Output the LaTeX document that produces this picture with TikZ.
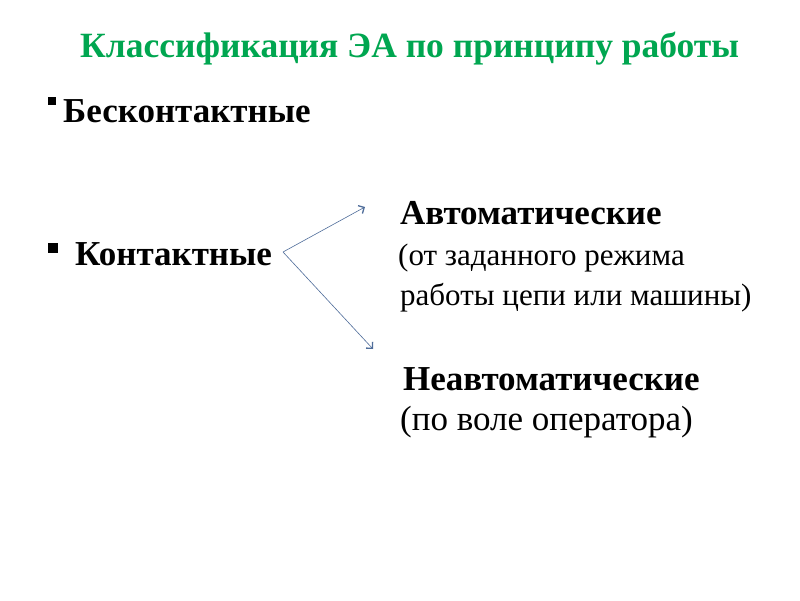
\documentclass[tikz,border=0pt]{standalone}
\usepackage{fontspec}
\setmainfont{Liberation Serif}
\usepackage{tikz}
\usetikzlibrary{arrows.meta}
\definecolor{titlegreen}{RGB}{0,166,80}
\definecolor{arrowblue}{RGB}{79,109,154}
\tikzset{heading/.style = {anchor = base west, inner sep = 0pt, font = \fontsize{35.5}{40}\selectfont\bfseries, text = titlegreen}}
\tikzset{item/.style = {anchor = base west, inner sep = 0pt, font = \fontsize{35}{40}\selectfont\bfseries}}
\tikzset{note/.style = {anchor = base west, inner sep = 0pt, font = \fontsize{31}{36}\selectfont}}
\tikzset{bullet/.style = {fill, inner sep = 0pt, minimum size = 8pt}}
\tikzset{edge/.style = {-{Straight Barb[length = 4.5pt, width = 9pt, line width = 1.3pt]}, draw = arrowblue, line width = 0.6pt}}

\begin{document}
\begin{tikzpicture}[x = 1pt, y = -1pt]
			\useasboundingbox[fill = white] (0, 0) rectangle (800, 600);
			\node[heading] (title) at (80, 57) {Классификация ЭА по принципу работы};

			\node[bullet] (b1) at (52, 101) {};
			\node[item] (contactless) at (63, 122) {Бесконтактные};
			\node[bullet, minimum size = 10pt] (b2) at (53, 248) {};
			\node[item] (contact) at (75, 265) {Контактные};

			\node[item] (auto) at (400, 224) {Автоматические};
			\node[note] (autonote1) at (398, 265) {(от заданного режима};
			\node[note] (autonote2) at (400, 305) {работы цепи или машины)};
			\node[item] (manual) at (403, 390) {Неавтоматические};
			\node[note, font = \fontsize{35}{40}\selectfont] (manualnote) at (400, 430) {(по воле оператора)};

			\coordinate (from) at (283, 252);
			\coordinate (toauto) at (365, 207);
			\coordinate (tomanual) at (373, 349);
			\draw[edge] (from) to (toauto);
			\draw[edge] (from) to (tomanual);
		\end{tikzpicture}
\end{document}
